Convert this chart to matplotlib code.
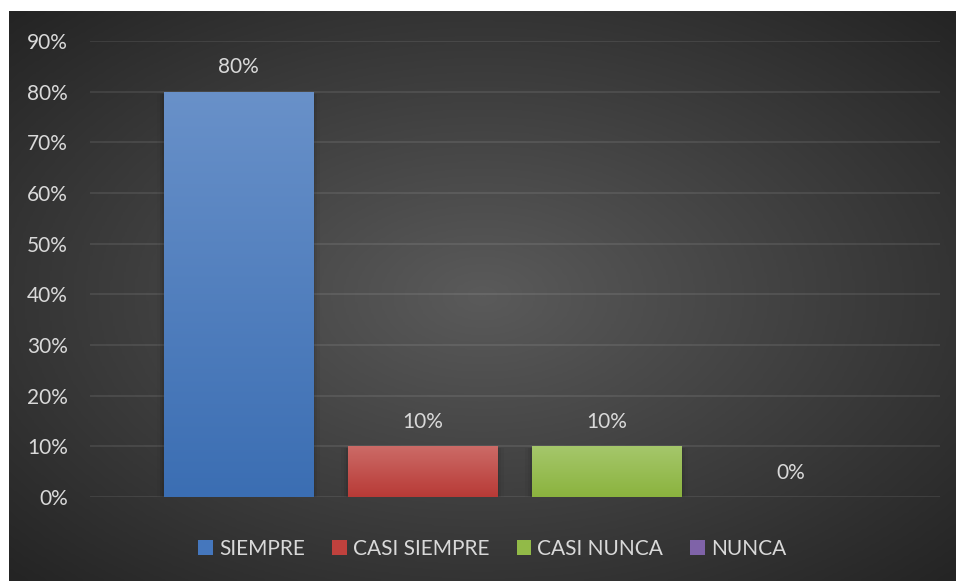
import numpy as np
import matplotlib
matplotlib.use('Agg')
import matplotlib.pyplot as plt
from matplotlib.colors import LinearSegmentedColormap
from matplotlib.patches import Patch

plt.rcParams['font.family'] = ['Lato', 'DejaVu Sans']

# ------------------------------
# Data
# ------------------------------
categories = ['SIEMPRE', 'CASI SIEMPRE', 'CASI NUNCA', 'NUNCA']
values = [0.80, 0.10, 0.10, 0.0]
labels = ['80%', '10%', '10%', '0%']
yticks = [0.0, 0.1, 0.2, 0.3, 0.4, 0.5, 0.6, 0.7, 0.8, 0.9]
ytick_labels = ['0%', '10%', '20%', '30%', '40%', '50%', '60%', '70%', '80%', '90%']

# top / bottom colors for the bar gradients
bar_top = ['#6991c9', '#cc6b67', '#a5c76b', '#9a80bc']
bar_bot = ['#3b6eb3', '#b83a36', '#8bb33e', '#7257a0']
legend_colors = ['#4577bd', '#c0413d', '#92ba48', '#7f63a8']

W, H = 956, 581
fig = plt.figure(figsize=(W / 100, H / 100), dpi=100)
fig.patch.set_facecolor('white')

# ------------------------------
# Dark radial-gradient panel
# ------------------------------
px0, py0 = 9, 11
bg = fig.add_axes([px0 / W, 0, 1 - px0 / W, 1 - py0 / H])
bg.set_axis_off()
gx, gy = np.meshgrid(np.linspace(-1, 1, 400), np.linspace(-1, 1, 250))
r = np.clip(np.sqrt(gx**2 + gy**2) / np.sqrt(2), 0, 1)
bg_cmap = LinearSegmentedColormap.from_list('bg', ['#5a5a5a', '#242424'])
bg.imshow(r, cmap=bg_cmap, aspect='auto', extent=[0, 1, 0, 1], interpolation='bilinear')
bg.set_xlim(0, 1); bg.set_ylim(0, 1)

# ------------------------------
# Plot axes
# ------------------------------
ax = fig.add_axes([90 / W, 1 - 497 / H, 850 / W, (497 - 41) / H])
ax.patch.set_alpha(0)
x = np.arange(len(categories))
width = 0.81
bars = ax.bar(x, values, width=width, color=legend_colors, zorder=3, linewidth=0)

# gradient fill clipped to each bar
for b, ct, cb in zip(bars, bar_top, bar_bot):
    if b.get_height() <= 0:
        continue
    cm = LinearSegmentedColormap.from_list('g', [cb, ct])
    grad = np.linspace(0, 1, 256).reshape(-1, 1)
    x0, y0 = b.get_x(), b.get_y()
    im = ax.imshow(grad, cmap=cm, aspect='auto', origin='lower',
                   extent=[x0, x0 + b.get_width(), y0, y0 + b.get_height()], zorder=4)
    im.set_clip_path(b)
    # soft shadow (sides only)
    for k, a in enumerate([0.07, 0.05, 0.03]):
        d = 0.012 * (k + 1)
        ax.add_patch(plt.Rectangle((x0 - d, y0), b.get_width() + 2 * d, b.get_height() - 0.004,
                                   color='black', alpha=a, lw=0, zorder=2.5))

ax.set_xlim(-0.807, 3.8125)
ax.set_ylim(0, 0.9)
ax.set_yticks(yticks)
ax.set_yticklabels(ytick_labels)
ax.set_xticks([])
ax.grid(axis='y', color='white', alpha=0.1, linewidth=1.2, zorder=1)
ax.set_axisbelow(True)
for s in ax.spines.values():
    s.set_visible(False)
ax.tick_params(axis='y', length=0, pad=16, labelsize=15, labelcolor='#d9d9d9')

for xi, v, lab in zip(x, values, labels):
    ax.annotate(lab, (xi, v), xytext=(0, 17.5), textcoords='offset points',
                ha='center', va='center', fontsize=15, color='#d9d9d9', zorder=5)

handles = [Patch(facecolor=c, edgecolor='none') for c in legend_colors]
leg = fig.legend(handles, categories, loc='center', bbox_to_anchor=(0.515, 1 - 549 / H),
                 ncol=4, frameon=False, fontsize=15, handlelength=0.7, handleheight=0.7,
                 handletextpad=0.3, columnspacing=1.3)
for t in leg.get_texts():
    t.set_color('#d9d9d9')

fig.savefig('out.png', dpi=100, facecolor=fig.get_facecolor())
